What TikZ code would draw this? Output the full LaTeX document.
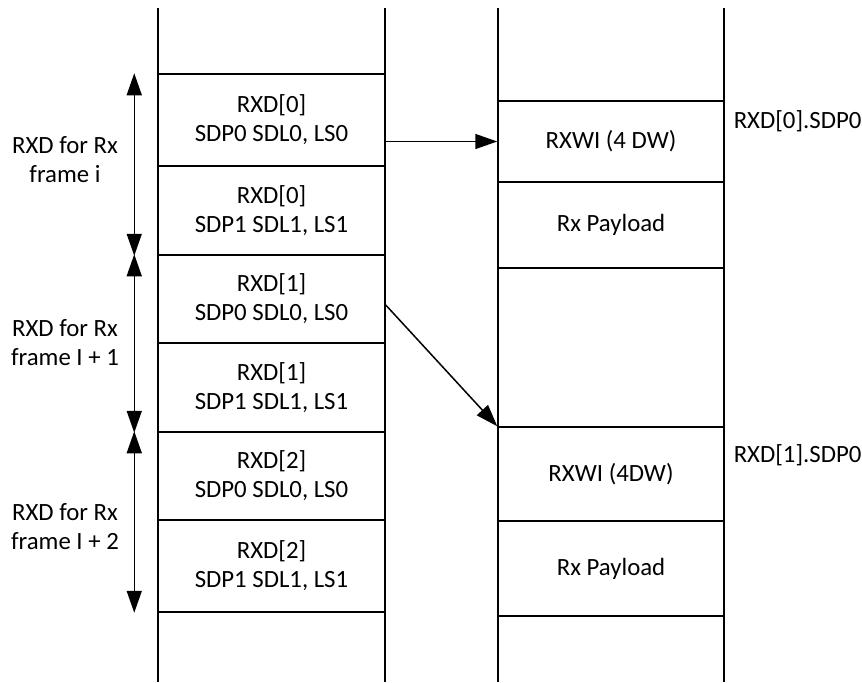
\documentclass[tikz,border=0pt]{standalone}
\usepackage{fontspec}
\setmainfont{Carlito}
\usetikzlibrary{arrows.meta, positioning, calc}

\begin{document}
\begin{tikzpicture}[x=0.5pt, y=-0.5pt, line width=0.75pt,
    font=\fontsize{12.4}{14.5}\selectfont,
    lcell/.style={draw, align=center, inner sep=0pt, minimum width=113.5pt},
    rcell/.style={draw, align=center, inner sep=0pt, minimum width=113pt},
    tip/.style={-{Triangle[length=11pt, width=7.5pt]}},
    span/.style={{Triangle[length=11pt, width=7.5pt]}-{Triangle[length=11pt, width=7.5pt]}},
    lbl/.style={align=center, inner sep=0pt}]

\useasboundingbox (0,0) rectangle (862,682);

% column walls
\draw (158,8) -- (158,682);
\draw (385,8) -- (385,682);
\draw (498,8) -- (498,682);
\draw (724,8) -- (724,682);

% descriptor ring
\node[lcell, minimum height=46pt] (d0a) at (271.5,120) {RXD[0]\\SDP0 SDL0, LS0};
\node[lcell, minimum height=44.5pt] (d0b) at (271.5,210.5) {RXD[0]\\SDP1 SDL1, LS1};
\node[lcell, minimum height=44pt] (d1a) at (271.5,299) {RXD[1]\\SDP0 SDL0, LS0};
\node[lcell, minimum height=44.5pt] (d1b) at (271.5,387.5) {RXD[1]\\SDP1 SDL1, LS1};
\node[lcell, minimum height=44pt] (d2a) at (271.5,476) {RXD[2]\\SDP0 SDL0, LS0};
\node[lcell, minimum height=46pt] (d2b) at (271.5,566) {RXD[2]\\SDP1 SDL1, LS1};

% rx buffers
\node[rcell, minimum height=40.5pt] (wi0) at (611,141.5) {RXWI (4 DW)};
\node[rcell, minimum height=43pt] (pl0) at (611,225) {Rx Payload};
\node[rcell, minimum height=47pt] (wi1) at (611,474) {RXWI (4DW)};
\node[rcell, minimum height=47.5pt] (pl1) at (611,568.5) {Rx Payload};

\node[lbl, anchor=west] (sdp0) at (733,121) {RXD[0].SDP0};
\node[lbl, anchor=west] (sdp1) at (733,455) {RXD[1].SDP0};

% frame spans
\node[lbl] (fr0) at (65,160) {RXD for Rx\\frame i};
\node[lbl] (fr1) at (65,343) {RXD for Rx\\frame I + 1};
\node[lbl] (fr2) at (65,527) {RXD for Rx\\frame I + 2};

\draw[span] ([xshift=-11.5pt]d0a.north west) -- ([xshift=-11.5pt]d0b.south west);
\draw[span] ([xshift=-11.5pt]d1a.north west) -- ([xshift=-11.5pt]d1b.south west);
\draw[span] ([xshift=-11.5pt]d2a.north west) -- ([xshift=-11.5pt]d2b.south west);

% pointers
\draw[tip] (d0a.east |- wi0.west) -- (wi0.west);
\draw[tip] ([yshift=-3pt]d1a.east) -- (wi1.north west);

\end{tikzpicture}
\end{document}
